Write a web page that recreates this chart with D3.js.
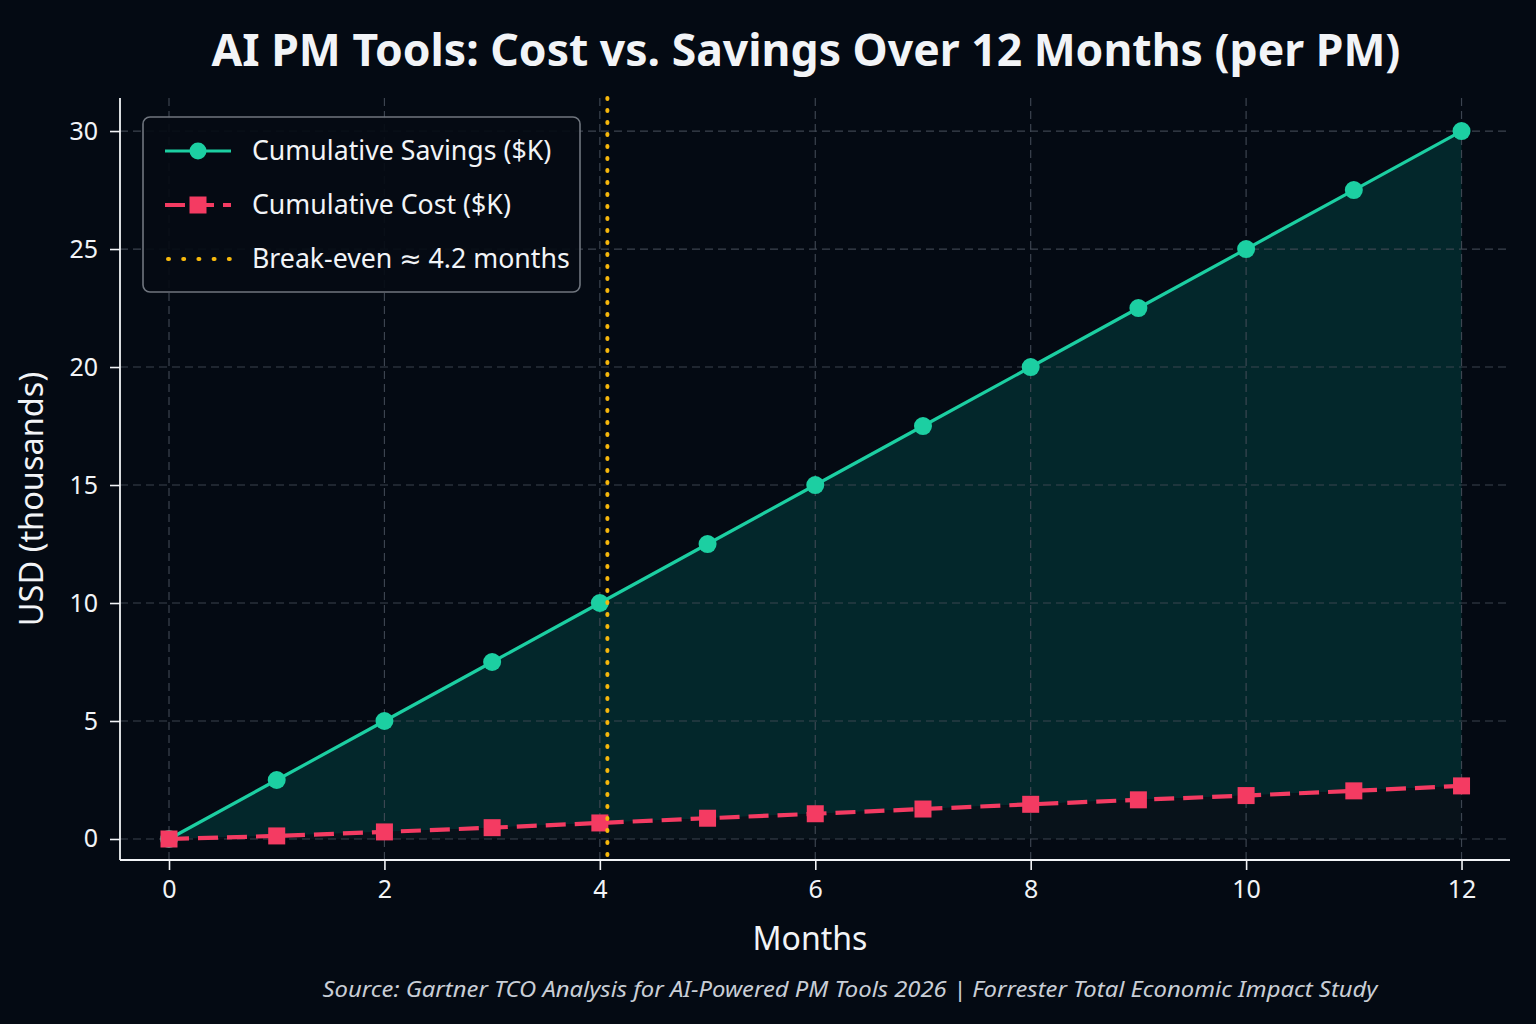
<!DOCTYPE html>
<html>
<head>
<meta charset="utf-8">
<script src="https://cdn.jsdelivr.net/npm/d3@7"></script>
<style>
  html, body { margin: 0; padding: 0; background: #040a13; }
  svg { display: block; }
</style>
</head>
<body>
<div id="chart"></div>
<script>
// Cost vs. savings per PM, cumulative $K by month
const months = [0, 1, 2, 3, 4, 5, 6, 7, 8, 9, 10, 11, 12];
const savings = [0, 2.5, 5, 7.5, 10, 12.5, 15, 17.5, 20, 22.5, 25, 27.5, 30];
const cost = [0, 0.13, 0.3, 0.48, 0.68, 0.88, 1.07, 1.27, 1.47, 1.66, 1.84, 2.04, 2.25];
const breakEven = 4.07; // where the dotted line is drawn
const xTicks = [0, 2, 4, 6, 8, 10, 12];
const yTicks = [0, 5, 10, 15, 20, 25, 30];
const legendLabels = ["Cumulative Savings ($K)", "Cumulative Cost ($K)", "Break-even \u2248 4.2 months"];

(() => {
  const W = 1536, H = 1024;
  const ML = 120, MR = 26, TOP = 98, BOT = 164;
  const FONT = "'Noto Sans', 'DejaVu Sans', sans-serif";
  const C = { bg: "#040a13", ink: "#f2f4f7", grid: "#434b57", green: "#1ccfa2", red: "#f43b62", gold: "#f7b80c" };

  const svg = d3.select("#chart").append("svg").attr("width", W).attr("height", H);
  svg.append("rect").attr("width", W).attr("height", H).attr("fill", C.bg);

  const x = d3.scaleLinear().domain([-0.455, 12.45]).range([ML, W - MR]);
  const y = d3.scaleLinear().domain([-0.89, 31.4]).range([H - BOT, TOP]);

  const pts = months.map((m, i) => ({ m, s: savings[i], c: cost[i] }));

  // fills (under the grid so the dashes stay visible)
  svg.append("path").datum(pts)
    .attr("d", d3.area().x(d => x(d.m)).y0(d => y(d.c)).y1(d => y(d.s)))
    .attr("fill", "#03272b");
  svg.append("path").datum(pts)
    .attr("d", d3.area().x(d => x(d.m)).y0(y(0)).y1(d => y(d.c)))
    .attr("fill", "#08121a");

  // grid
  const gGrid = svg.append("g");
  xTicks.forEach(v => gGrid.append("line")
    .attr("x1", x(v)).attr("x2", x(v)).attr("y1", TOP).attr("y2", H - BOT)
    .attr("stroke", C.grid).attr("stroke-width", 1.2).attr("stroke-dasharray", "8,5").attr("opacity", 0.9));
  yTicks.forEach(v => gGrid.append("line")
    .attr("x1", ML).attr("x2", W - MR).attr("y1", y(v)).attr("y2", y(v))
    .attr("stroke", C.grid).attr("stroke-width", 1.2).attr("stroke-dasharray", "8,5").attr("opacity", 0.9));

  // savings line
  svg.append("path").datum(pts)
    .attr("d", d3.line().x(d => x(d.m)).y(d => y(d.s)))
    .attr("fill", "none").attr("stroke", C.green).attr("stroke-width", 3.2);
  svg.selectAll(".sdot").data(pts).join("circle")
    .attr("cx", d => x(d.m)).attr("cy", d => y(d.s)).attr("r", 9).attr("fill", C.green);

  // cost line
  svg.append("path").datum(pts)
    .attr("d", d3.line().x(d => x(d.m)).y(d => y(d.c)))
    .attr("fill", "none").attr("stroke", C.red).attr("stroke-width", 4.2)
    .attr("stroke-dasharray", "20,9");
  svg.selectAll(".cdot").data(pts).join("rect")
    .attr("x", d => x(d.m) - 8.5).attr("y", d => y(d.c) - 8.5)
    .attr("width", 17).attr("height", 17).attr("fill", C.red);

  // break-even line
  svg.append("line")
    .attr("x1", x(breakEven)).attr("x2", x(breakEven)).attr("y1", TOP).attr("y2", H - BOT)
    .attr("stroke", C.gold).attr("stroke-width", 4).attr("stroke-linecap", "round")
    .attr("stroke-dasharray", "1,11");

  // axes
  const tickStyle = `font:25px ${FONT};fill:${C.ink}`;
  const gx = svg.append("g").attr("transform", `translate(0,${H - BOT})`)
    .call(d3.axisBottom(x).tickValues(xTicks).tickSizeOuter(0).tickSize(10).tickPadding(10));
  const gy = svg.append("g").attr("transform", `translate(${ML},0)`)
    .call(d3.axisLeft(y).tickValues(yTicks).tickSizeOuter(0).tickSize(10).tickPadding(12));
  [gx, gy].forEach(g => {
    g.select(".domain").attr("stroke", C.ink).attr("stroke-width", 1.8);
    g.selectAll(".tick line").attr("stroke", C.ink).attr("stroke-width", 1.6);
    g.selectAll(".tick text").attr("style", tickStyle);
  });
  gx.select(".domain").attr("d", `M${ML},0H${W - MR}`);
  gy.select(".domain").attr("d", `M0,${TOP}V${H - BOT}`);

  // titles
  svg.append("text").attr("x", 806).attr("y", 66).attr("text-anchor", "middle")
    .attr("style", `font:bold 44.5px ${FONT};fill:${C.ink}`)
    .text("AI PM Tools: Cost vs. Savings Over 12 Months (per PM)");
  svg.append("text").attr("x", 810).attr("y", 950).attr("text-anchor", "middle")
    .attr("style", `font:32px ${FONT};fill:${C.ink}`).text("Months");
  svg.append("text").attr("transform", `translate(43,${(TOP + H - BOT) / 2 + 20}) rotate(-90)`)
    .attr("text-anchor", "middle")
    .attr("style", `font:32.5px ${FONT};fill:${C.ink}`).text("USD (thousands)");
  svg.append("text").attr("x", 850).attr("y", 997).attr("text-anchor", "middle")
    .attr("textLength", 1055).attr("lengthAdjust", "spacingAndGlyphs")
    .attr("style", `font:italic 21px ${FONT};fill:#c9ced6`)
    .text("Source: Gartner TCO Analysis for AI-Powered PM Tools 2026 | Forrester Total Economic Impact Study");

  // legend
  const lg = svg.append("g").attr("transform", "translate(143,117)");
  lg.append("rect").attr("width", 437).attr("height", 175).attr("rx", 7)
    .attr("fill", "#050b14").attr("fill-opacity", 0.92).attr("stroke", "#70767f").attr("stroke-width", 1.6);
  const rows = [34, 88, 142];
  // savings sample
  lg.append("line").attr("x1", 22).attr("x2", 88).attr("y1", rows[0]).attr("y2", rows[0])
    .attr("stroke", C.green).attr("stroke-width", 3.2);
  lg.append("circle").attr("cx", 55).attr("cy", rows[0]).attr("r", 8.5).attr("fill", C.green);
  // cost sample
  lg.append("line").attr("x1", 22).attr("x2", 88).attr("y1", rows[1]).attr("y2", rows[1])
    .attr("stroke", C.red).attr("stroke-width", 4.2).attr("stroke-dasharray", "20,9");
  lg.append("rect").attr("x", 46.5).attr("y", rows[1] - 8.5).attr("width", 17).attr("height", 17).attr("fill", C.red);
  // break-even sample
  lg.append("line").attr("x1", 25).attr("x2", 88).attr("y1", rows[2]).attr("y2", rows[2])
    .attr("stroke", C.gold).attr("stroke-width", 4).attr("stroke-linecap", "round")
    .attr("stroke-dasharray", "1,14.2");
  legendLabels.forEach((t, i) => lg.append("text").attr("x", 109).attr("y", rows[i] + 9)
    .attr("style", `font:26.7px ${FONT};fill:${C.ink}`).text(t));
})();
</script>
</body>
</html>
